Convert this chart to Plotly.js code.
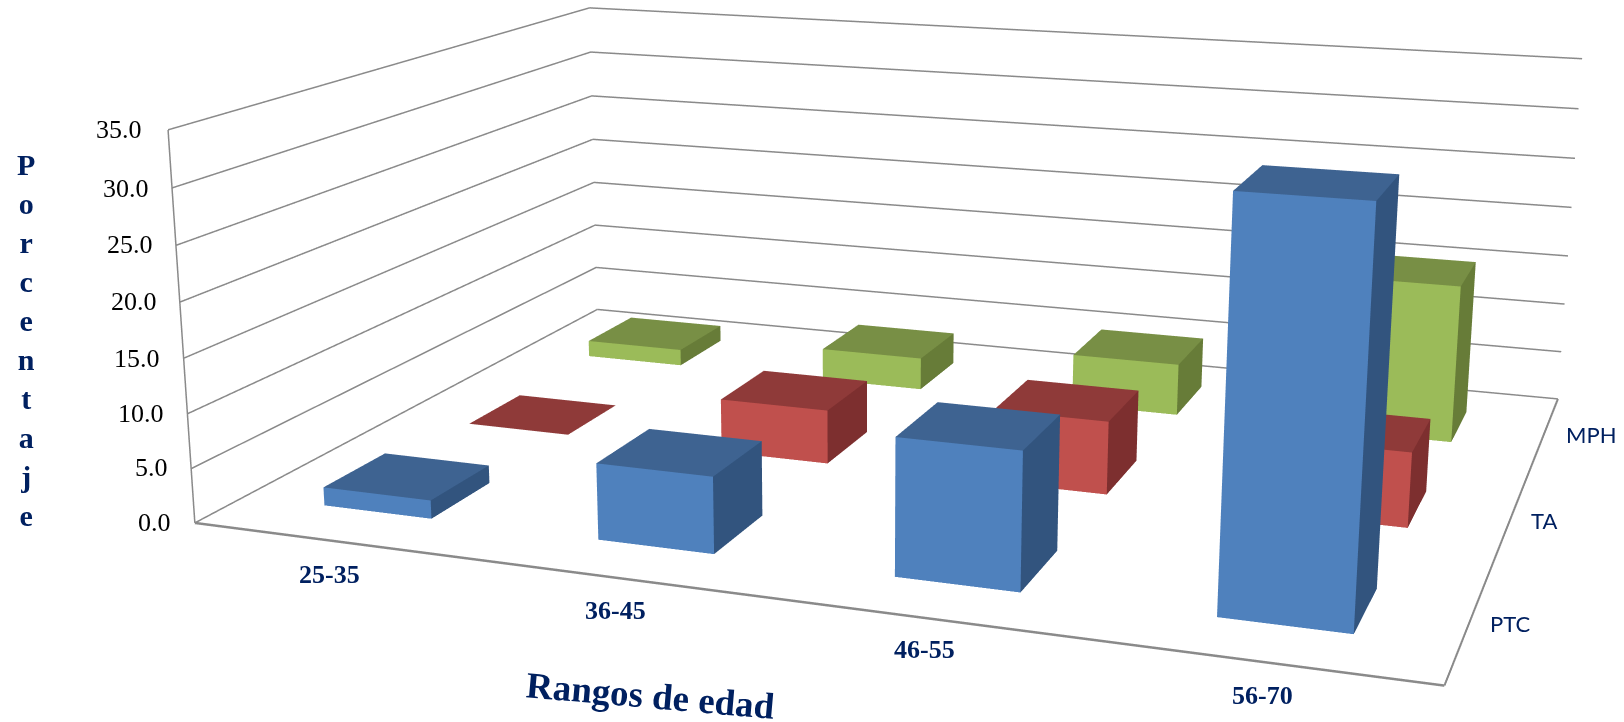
<!DOCTYPE html>
<html><head><meta charset="utf-8">
<script src="https://cdn.plot.ly/plotly-3.0.1.min.js"></script>
<style>html,body{margin:0;padding:0;width:1624px;height:722px;overflow:hidden;background:#fff}
#frame{position:absolute;left:0;top:0;width:1624px;height:722px;overflow:hidden}
#chart{position:absolute;left:-5px;top:-747px;width:1720px;height:2186px}</style>
</head><body><div id="frame"><div id="chart"></div></div>
<script>
// ---- data ----
const categories = ['25-35','36-45','46-55','56-70'];
const seriesNames = ['PTC','TA','MPH'];
const valuesPTC = [1.7, 6.9, 12.1, 34.5];
const valuesTA  = [0.0, 5.2, 6.9, 6.9];
const valuesMPH = [1.7, 3.3, 5.2, 15.5];
const tickValues = [0,5,10,15,20,25,30,35];
const tickLabels = ['0.0','5.0','10.0','15.0','20.0','25.0','30.0','35.0'];
const yTitle = 'Porcentaje';
const xTitle = 'Rangos de edad';

// ---- styles ----
const faceColors = [
  {front:'#4F81BD', top:'#3E6391', side:'#32547E'},
  {front:'#C0504D', top:'#8F3A39', side:'#7D2F2F'},
  {front:'#9BBB59', top:'#788F45', side:'#677C38'}
];
const gridColor = '#8A8A8A', navy = '#002060';
const barLo = 0.3, barHi = 0.7;
const W = 1720, H = 2186, LEFT = -5, TOP = -747;

const allValues = [valuesPTC, valuesTA, valuesMPH];
const traces = [];

function lineTrace(xs, ys, zs, width){
  return {type:'scatter3d', mode:'lines', x:xs, y:ys, z:zs, hoverinfo:'skip', showlegend:false,
          line:{color:gridColor, width:width}};
}
tickValues.forEach(t => {
  traces.push(lineTrace([0,0,categories.length],[0,seriesNames.length,seriesNames.length],[t,t,t],3));
});
traces.push(lineTrace([0,0],[0,0],[0,35],3));
traces.push(lineTrace([0,categories.length],[0,0],[0,0],5));
traces.push(lineTrace([categories.length,categories.length],[0,seriesNames.length],[0,0],4));

allValues.forEach((vals, s) => {
  const X=[],Y=[],Z=[],I=[],J=[],K=[],FC=[];
  vals.forEach((v, c) => {
    const x0=c+barLo, x1=c+barHi, y0=s+barLo, y1=s+barHi, b=X.length;
    [[x0,y0,0],[x1,y0,0],[x1,y1,0],[x0,y1,0],[x0,y0,v],[x1,y0,v],[x1,y1,v],[x0,y1,v]]
      .forEach(p => {X.push(p[0]);Y.push(p[1]);Z.push(p[2]);});
    const quad=(a,d,e,f,col)=>{I.push(b+a,b+a);J.push(b+d,b+e);K.push(b+e,b+f);FC.push(col,col);};
    quad(4,5,6,7,faceColors[s].top);
    quad(0,1,5,4,faceColors[s].front);
    quad(1,2,6,5,faceColors[s].side);
  });
  traces.push({type:'mesh3d', x:X, y:Y, z:Z, i:I, j:J, k:K, facecolor:FC, flatshading:true,
    hoverinfo:'skip', showscale:false,
    lighting:{ambient:1,diffuse:0,specular:0,roughness:1,fresnel:0}, lightposition:{x:0,y:0,z:0}});
});

const hiddenAxis = r => ({range:r, type:'linear', autorange:false, showgrid:false, zeroline:false,
  showline:false, showticklabels:false, ticks:'', showbackground:false, showspikes:false, title:{text:''}});

// Text placement in window pixels
function ann(text, px, py, font, extra){
  return Object.assign({xref:'paper', yref:'paper', x:(px-LEFT)/W, y:1-(py-TOP)/H, text:text,
    showarrow:false, xanchor:'center', yanchor:'middle', font:font, borderpad:0}, extra||{});
}
const serif='"Liberation Serif", serif';
const tickPos=[[172,522],[169,467],[165,413],[161,358],[157.5,301],[154,245],[149.5,188],[143,130]];
const catPos=[[329,574],[615,610.5],[924.5,649.5],[1262.5,695]];
const serPos=[[1510,623.5],[1544,520],[1591,434.5]];
const annotations=[];
tickLabels.forEach((t,i)=>annotations.push(ann(t,tickPos[i][0],tickPos[i][1],{family:serif,size:26,color:'#000'},{xanchor:'right'})));
categories.forEach((t,i)=>annotations.push(ann('<b>'+t+'</b>',catPos[i][0],catPos[i][1],{family:serif,size:26,color:navy})));
seriesNames.forEach((t,i)=>annotations.push(ann(t,serPos[i][0],serPos[i][1],{family:'Lato, sans-serif',size:22,color:navy})));
annotations.push(ann('<b>'+yTitle.split('').join('<br>')+'</b>',26,339.5,{family:serif,size:30,color:navy}));
annotations.push(ann('<b>'+xTitle+'</b>',650,695,{family:serif,size:37,color:navy},{textangle:5}));

const layout = {
  width:W, height:H, margin:{l:0,r:0,t:0,b:0,pad:0}, paper_bgcolor:'#fff', showlegend:false,
  annotations:annotations,
  scene:{
    domain:{x:[0,1],y:[0,1]}, bgcolor:'#fff', dragmode:'turntable',
    aspectmode:'manual', aspectratio:{x:2,y:1.506,z:0.6456},
    camera:{eye:{x:1.4043,y:-4.1946,z:1.0593}, center:{x:-0.0361,y:-0.2725,z:-0.0576}, up:{x:0,y:0,z:1},
            projection:{type:'perspective'}},
    xaxis:hiddenAxis([0,categories.length]),
    yaxis:hiddenAxis([0,seriesNames.length]),
    zaxis:hiddenAxis([0,35])
  }
};
Plotly.newPlot('chart', traces, layout, {displayModeBar:false, responsive:false});
</script></body></html>
